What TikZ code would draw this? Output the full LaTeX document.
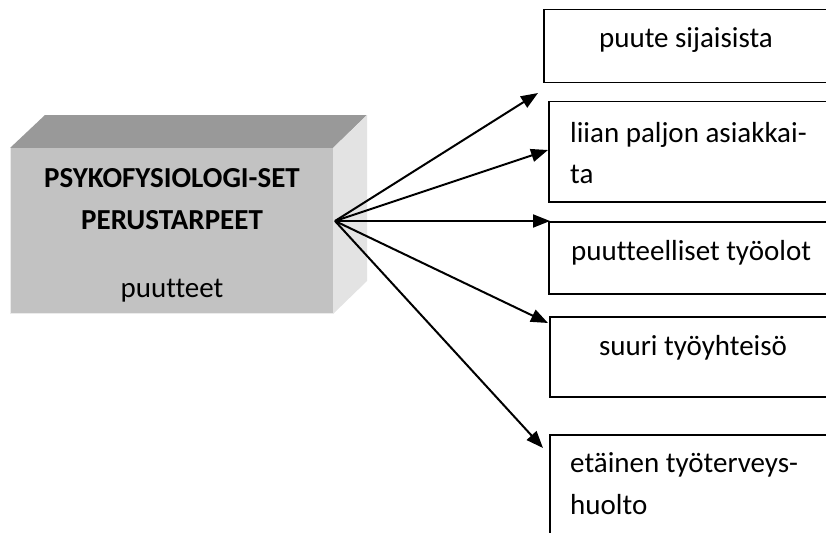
\documentclass[tikz,border=0pt]{standalone}
\usepackage{fontspec}
\setmainfont[Ligatures=NoCommon]{Carlito}
\usetikzlibrary{arrows.meta}
\begin{document}
\begin{tikzpicture}[x=1pt,y=-1pt,
  box/.style={draw=black, line width=1.5pt, rectangle, anchor=north west,
    inner sep=0pt, minimum width=330pt},
  lbl/.style={font=\fontsize{29}{35}\selectfont, inner sep=0pt},
  arr/.style={-{Triangle[length=17pt,width=13pt]}, line width=2pt},
  face/.style={draw=none}]
\clip (0,0) rectangle (826,532);

% block: top and side faces, then the front face
\fill[face, fill=black!40] (10,148) -- (45,115) -- (367,115) -- (333,148) -- cycle;
\fill[face, fill=black!11] (333,148) -- (367,115) -- (367,281) -- (333,314) -- cycle;
\node[face, fill=black!24, anchor=north west, inner sep=0pt,
  minimum width=323pt, minimum height=166pt] (front) at (10,148) {};
\draw[black!8, line width=1.2pt] (10.6,148) -- (10.6,313.4) -- (333,313.4);

\node[lbl, anchor=base, font=\fontsize{29}{35}\selectfont\bfseries] (t1) at (172,187) {PSYKOFYSIOLOGI-SET};
\node[lbl, anchor=base, font=\fontsize{29}{35}\selectfont\bfseries] (t2) at (172,229) {PERUSTARPEET};
\node[lbl, anchor=base] (t3) at (172,297) {puutteet};

% hub where the arrows fan out
\coordinate (hub) at (335,221);

% boxes on the right
\node[box, minimum height=73pt] (b1) at (543,9) {};
\node[box, minimum height=100pt] (b2) at (548,101) {};
\node[box, minimum height=72pt] (b3) at (548,221) {};
\node[box, minimum height=80pt] (b4) at (549,316) {};
\node[box, minimum height=140pt] (b5) at (549,434) {};

\node[lbl, anchor=base] (l1) at (686,48) {puute sijaisista};
\node[lbl, anchor=base west] (l2a) at (570,142) {liian paljon asiakkai-};
\node[lbl, anchor=base west] (l2b) at (570,183) {ta};
\node[lbl, anchor=base west] (l3) at (571,260) {puutteelliset työolot};
\node[lbl, anchor=base] (l4) at (693,355) {suuri työyhteisö};
\node[lbl, anchor=base west] (l5a) at (570,472) {etäinen työterveys-};
\node[lbl, anchor=base west] (l5b) at (570,514) {huolto};

% arrow tips
\coordinate (e1) at (538,93);
\coordinate (e2) at (548,150);
\coordinate (e3) at (550,221);
\coordinate (e4) at (548,323);
\coordinate (e5) at (543,448);

\foreach \e in {e1,e2,e3,e4,e5}
  \draw[arr] (hub) -- (\e);
\end{tikzpicture}
\end{document}
